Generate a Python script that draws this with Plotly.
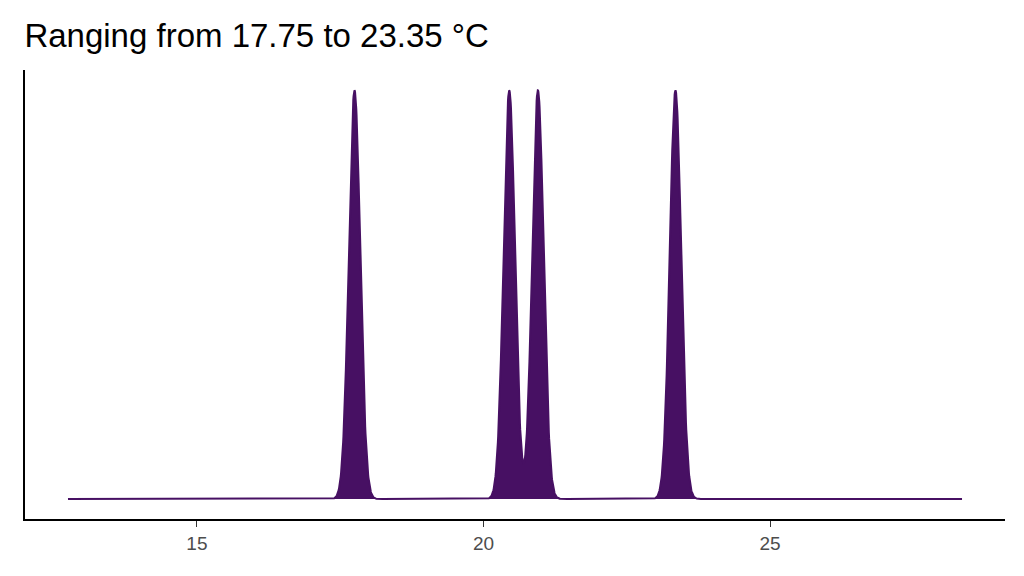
import numpy as np
import plotly.graph_objects as go

temps = [17.75, 20.45, 20.95, 23.35]
bandwidth = 0.1
x_min, x_max = 12.75, 28.35

xs = np.linspace(x_min, x_max, 3000)
dens = np.zeros_like(xs)
for t in temps:
    dens += np.exp(-0.5 * ((xs - t) / bandwidth) ** 2) / (bandwidth * np.sqrt(2 * np.pi))
dens /= len(temps)
ymax = dens.max()

color = "#471063"
fig = go.Figure(go.Scatter(x=xs, y=dens, mode="lines", fill="tozeroy",
                           line=dict(color=color, width=2), fillcolor=color))
fig.update_layout(
    width=1024, height=576, plot_bgcolor="white", paper_bgcolor="white",
    margin=dict(l=17, r=27, t=62, b=65), showlegend=False,
    title=dict(text="Ranging from 17.75 to 23.35 °C", x=0.016, xanchor="left",
               y=0.953, yanchor="middle", font=dict(family="Liberation Sans", size=33, color="black")),
    font=dict(family="Liberation Sans"),
)
fig.update_xaxes(range=[12.0, 29.1], tickvals=[15, 20, 25], showgrid=False, zeroline=False,
                 showline=True, linecolor="black", linewidth=2, ticks="outside", ticklen=6,
                 tickcolor="#333", tickfont=dict(size=19, color="#4d4d4d"))
fig.update_yaxes(range=[-0.049 * ymax, 1.05 * ymax], showticklabels=False, showgrid=False,
                 zeroline=False, showline=True, linecolor="black", linewidth=2)
fig.write_html("out.html")
